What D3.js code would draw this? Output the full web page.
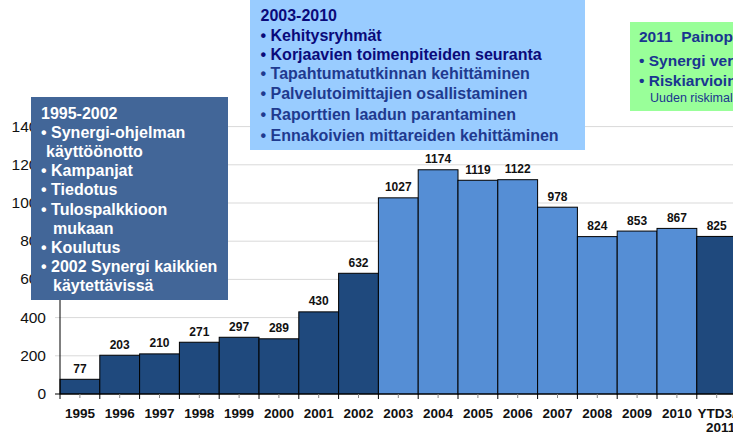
<!DOCTYPE html>
<html lang="fi">
<head>
<meta charset="UTF-8">
<title>Synergi 1995-2011</title>
<style>
  body { margin: 0; background: #fff; }
  svg { display: block; font-family: "Liberation Sans", Arial, sans-serif; }
</style>
</head>
<body>
<svg id="chart" width="733" height="437"></svg>
<script src="https://d3js.org/d3.v7.min.js"></script>
<script>

    // data
    var years = ["1995", "1996", "1997", "1998", "1999", "2000", "2001", "2002",
                 "2003", "2004", "2005", "2006", "2007", "2008", "2009", "2010", "YTD3/2011"];
    var counts = [77, 203, 210, 271, 297, 289, 430, 632,
                  1027, 1174, 1119, 1122, 978, 824, 853, 867, 825];
    var period = ["a", "a", "a", "a", "a", "a", "a", "a",
                  "b", "b", "b", "b", "b", "b", "b", "b", "a"];
    var yTicks = [0, 200, 400, 600, 800, 1000, 1200, 1400];

    var box1Lines = ["1995-2002", "• Synergi-ohjelman", "käyttöönotto", "• Kampanjat", "• Tiedotus",
                     "• Tulospalkkioon", "mukaan", "• Koulutus", "• 2002 Synergi kaikkien", "käytettävissä"];
    var box1Indent = [41, 41, 46, 41, 41, 41, 53, 41, 41, 53];
    var box2Lines = ["2003-2010", "Kehitysryhmät", "Korjaavien toimenpiteiden seuranta",
                     "Tapahtumatutkinnan kehittäminen", "Palvelutoimittajien osallistaminen",
                     "Raporttien laadun parantaminen", "Ennakoivien mittareiden kehittäminen"];
    var box3Lines = ["2011  Painopisteet", "Synergi versio", "Riskiarviointi", "Uuden riskimallin käyttöönotto"];

    var svg = d3.select("#chart"),
        left = 60,
        step = 39.8,
        y0 = 394,
        yTop = 126.6;

    var x = d3.scaleBand()
        .domain(years)
        .range([left, left + step * years.length])
        .padding(0);

    var y = d3.scaleLinear()
        .domain([0, 1400])
        .range([y0, yTop]);

    var color = d3.scaleOrdinal().domain(["a", "b"]).range(["#1f497d", "#558ed5"]);

    // gridlines
    svg.append("g")
        .selectAll("line")
        .data(yTicks.slice(1))
        .join("line")
        .attr("x1", left - 5)
        .attr("x2", 733)
        .attr("y1", function (d) { return y(d); })
        .attr("y2", function (d) { return y(d); })
        .attr("stroke", "#d9d9d9")
        .attr("stroke-width", 1);

    // y labels
    svg.append("g")
        .selectAll("text")
        .data(yTicks)
        .join("text")
        .attr("x", 46)
        .attr("y", function (d) { return y(d) + 5; })
        .attr("text-anchor", "end")
        .attr("font-size", "15.5px")
        .attr("fill", "#111")
        .text(function (d) { return d; });

    // bars
    svg.append("g")
        .selectAll("rect")
        .data(counts)
        .join("rect")
        .attr("x", function (d, i) { return x(years[i]); })
        .attr("y", function (d) { return y(d); })
        .attr("width", x.bandwidth())
        .attr("height", function (d) { return y(0) - y(d); })
        .attr("fill", function (d, i) { return color(period[i]); })
        .attr("stroke", "#000")
        .attr("stroke-width", 1);

    // value labels
    svg.append("g")
        .selectAll("text")
        .data(counts)
        .join("text")
        .attr("x", function (d, i) { return x(years[i]) + x.bandwidth() / 2; })
        .attr("y", function (d) { return y(d) - 6.5; })
        .attr("text-anchor", "middle")
        .attr("font-size", "12px")
        .attr("font-weight", "bold")
        .attr("fill", "#111")
        .text(function (d) { return d; });

    // axes lines
    svg.append("line")
        .attr("x1", left).attr("x2", left)
        .attr("y1", yTop).attr("y2", y0)
        .attr("stroke", "#000");
    svg.append("line")
        .attr("x1", left - 5).attr("x2", 733)
        .attr("y1", y0).attr("y2", y0)
        .attr("stroke", "#000");

    // x ticks at band edges and band centres
    svg.append("g")
        .selectAll("line")
        .data(years)
        .join("line")
        .attr("x1", function (d) { return x(d); })
        .attr("x2", function (d) { return x(d); })
        .attr("y1", y0).attr("y2", y0 + 5)
        .attr("stroke", "#000");
    svg.append("g")
        .selectAll("line")
        .data(years)
        .join("line")
        .attr("x1", function (d) { return x(d) + x.bandwidth() / 2; })
        .attr("x2", function (d) { return x(d) + x.bandwidth() / 2; })
        .attr("y1", y0).attr("y2", y0 + 4)
        .attr("stroke", "#888");

    // x labels
    var xl = svg.append("g")
        .selectAll("text")
        .data(years)
        .join("text")
        .attr("x", function (d) { return x(d) + x.bandwidth() / 2; })
        .attr("y", 418)
        .attr("text-anchor", "middle")
        .attr("font-size", "13.5px")
        .attr("font-weight", "bold")
        .attr("fill", "#111");
    xl.each(function (d) {
        var parts = d.split("/");
        var t = d3.select(this);
        if (parts.length === 1) { t.text(d); return; }
        t.append("tspan").text(parts[0] + "/");
        t.append("tspan")
            .attr("x", x(d) + x.bandwidth() / 2 + 4)
            .attr("dy", 14)
            .text(parts[1]);
    });

    // annotation box 1995-2002
    svg.append("rect")
        .attr("x", 31).attr("y", 97)
        .attr("width", 197).attr("height", 203)
        .attr("fill", "#426698");
    svg.append("g")
        .selectAll("text")
        .data(box1Lines)
        .join("text")
        .attr("x", function (d, i) { return box1Indent[i]; })
        .attr("y", function (d, i) { return 118.5 + i * 19.2; })
        .attr("font-size", "16px")
        .attr("font-weight", "bold")
        .attr("fill", "#fff")
        .text(function (d) { return d; });

    // annotation box 2003-2010
    var box2Base = [20.5, 40.5, 60, 79, 98.5, 119.5, 141];
    svg.append("rect")
        .attr("x", 250).attr("y", 0)
        .attr("width", 335).attr("height", 150)
        .attr("fill", "#99ccff");
    svg.append("g")
        .selectAll("text")
        .data(box2Lines)
        .join("text")
        .attr("x", 260.5)
        .attr("y", function (d, i) { return box2Base[i]; })
        .attr("font-size", "16px")
        .attr("font-weight", "bold")
        .attr("fill", function (d, i) { return i < 3 ? "#0a0a7a" : "#1f3a8f"; })
        .text(function (d, i) { return i === 0 ? d : "• " + d; });

    // annotation box 2011 (runs past the right edge, as in the source slide)
    svg.append("rect")
        .attr("x", 630).attr("y", 22)
        .attr("width", 110).attr("height", 89)
        .attr("fill", "#99ff99");
    svg.append("g")
        .selectAll("text")
        .data(box3Lines)
        .join("text")
        .attr("x", function (d, i) { return i === 3 ? 650 : 639; })
        .attr("y", function (d, i) { return [42, 65.5, 85.5, 101.5][i]; })
        .attr("xml:space", "preserve")
        .style("white-space", "pre")
        .attr("font-size", function (d, i) { return i === 3 ? "12.5px" : "15.5px"; })
        .attr("font-weight", function (d, i) { return i === 3 ? "normal" : "bold"; })
        .attr("fill", "#1a3590")
        .text(function (d, i) { return (i === 1 || i === 2) ? "• " + d : d; });

</script>
</body>
</html>
